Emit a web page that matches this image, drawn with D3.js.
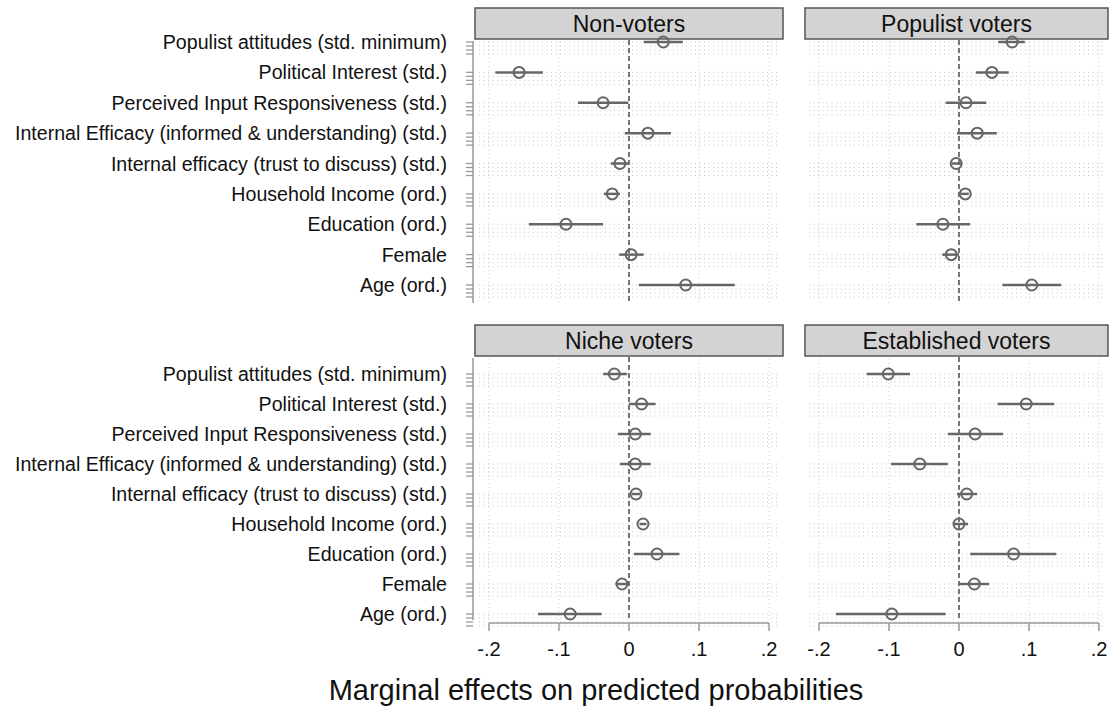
<!DOCTYPE html>
<html lang="en">
<head>
  <meta charset="UTF-8">
  <title>Marginal effects on predicted probabilities</title>
  <script src="https://d3js.org/d3.v7.min.js"></script>
  <style>
    body {
      margin: 0;
      background: #fff;
      font-family: "Liberation Sans", Arial, sans-serif;
    }
  </style>
</head>
<body>
<div id="chart"></div>

<script>
  // categories (top to bottom)
  var categories = [
    "Populist attitudes (std. minimum)",
    "Political Interest (std.)",
    "Perceived Input Responsiveness (std.)",
    "Internal Efficacy (informed & understanding) (std.)",
    "Internal efficacy (trust to discuss) (std.)",
    "Household Income (ord.)",
    "Education (ord.)",
    "Female",
    "Age (ord.)"
  ];

  var panelNames = ["Non-voters", "Populist voters", "Niche voters", "Established voters"];
  var xTicks = [-0.2, -0.1, 0, 0.1, 0.2];
  var xTickLabels = ["-.2", "-.1", "0", ".1", ".2"];

  // point estimates and 95% CI bounds, per panel
  var nonVotersEst = [0.049, -0.157, -0.037, 0.027, -0.013, -0.024, -0.090, 0.003, 0.081];
  var nonVotersLo  = [0.021, -0.191, -0.073, -0.006, -0.026, -0.036, -0.143, -0.014, 0.014];
  var nonVotersHi  = [0.077, -0.123, -0.001, 0.060, 0.000, -0.013, -0.037, 0.021, 0.151];

  var populistEst = [0.076, 0.047, 0.010, 0.026, -0.004, 0.009, -0.023, -0.011, 0.104];
  var populistLo  = [0.056, 0.024, -0.019, -0.003, -0.010, 0.003, -0.061, -0.024, 0.062];
  var populistHi  = [0.094, 0.071, 0.039, 0.054, 0.004, 0.014, 0.016, 0.000, 0.146];

  var nicheEst = [-0.021, 0.018, 0.009, 0.009, 0.010, 0.020, 0.040, -0.010, -0.084];
  var nicheLo  = [-0.037, 0.000, -0.016, -0.013, 0.004, 0.015, 0.007, -0.019, -0.130];
  var nicheHi  = [-0.003, 0.038, 0.031, 0.031, 0.016, 0.025, 0.072, 0.000, -0.039];

  var establishedEst = [-0.101, 0.096, 0.023, -0.056, 0.011, 0.000, 0.078, 0.022, -0.096];
  var establishedLo  = [-0.132, 0.055, -0.016, -0.097, -0.003, -0.007, 0.016, 0.001, -0.176];
  var establishedHi  = [-0.070, 0.136, 0.063, -0.016, 0.026, 0.013, 0.139, 0.043, -0.019];

  var width = 1112, height = 709;

  var svg = d3.select("#chart").append("svg")
    .attr("width", width)
    .attr("height", height);

  // panel geometry: plot box, zero position, plot top/bottom, first/last row, header strip
  var panels = [
    { name: panelNames[0], est: nonVotersEst, lo: nonVotersLo, hi: nonVotersHi,
      box: [475, 783], zero: 629, top: 40, bottom: 303, rows: [42, 285], header: [8, 39], yaxis: true, xaxis: false },
    { name: panelNames[1], est: populistEst, lo: populistLo, hi: populistHi,
      box: [805, 1108], zero: 959, top: 40, bottom: 303, rows: [42, 285], header: [8, 39], yaxis: false, xaxis: false },
    { name: panelNames[2], est: nicheEst, lo: nicheLo, hi: nicheHi,
      box: [475, 783], zero: 629, top: 357, bottom: 620, rows: [374, 614], header: [325, 356], yaxis: true, xaxis: true },
    { name: panelNames[3], est: establishedEst, lo: establishedLo, hi: establishedHi,
      box: [805, 1108], zero: 959, top: 357, bottom: 620, rows: [374, 614], header: [325, 356], yaxis: false, xaxis: true }
  ];

  var tickOffsets = [0, 4, 8, 12];

  panels.forEach(function(p) {
    var x = d3.scaleLinear().domain([-0.2, 0.2]).range([p.zero - 140, p.zero + 140]);
    var y = d3.scalePoint().domain(categories).range(p.rows);

    var g = svg.append("g");

    // header strip
    g.append("rect")
      .attr("x", p.box[0]).attr("y", p.header[0])
      .attr("width", p.box[1] - p.box[0]).attr("height", p.header[1] - p.header[0])
      .attr("fill", "#d3d3d3")
      .attr("stroke", "#555")
      .attr("stroke-width", 1.5);

    g.append("text")
      .attr("x", (p.box[0] + p.box[1]) / 2)
      .attr("y", (p.header[0] + p.header[1]) / 2 + 8)
      .attr("text-anchor", "middle")
      .attr("font-size", 23)
      .attr("fill", "#111")
      .text(p.name);

    // dotted grid
    var gridYs = [];
    categories.forEach(function(c) {
      tickOffsets.forEach(function(o) { gridYs.push(y(c) + o); });
    });

    g.selectAll(".hgrid").data(gridYs).enter().append("line")
      .attr("x1", p.box[0] + 4).attr("x2", p.box[1] - 4)
      .attr("y1", d => d).attr("y2", d => d)
      .attr("stroke", "#c4c4c4")
      .attr("stroke-width", 1)
      .attr("stroke-dasharray", "1,3.5");

    g.selectAll(".vgrid").data(xTicks.filter(d => d !== 0)).enter().append("line")
      .attr("x1", d => x(d)).attr("x2", d => x(d))
      .attr("y1", p.top + 2).attr("y2", p.bottom)
      .attr("stroke", "#d0d0d0")
      .attr("stroke-width", 1)
      .attr("stroke-dasharray", "1,3");

    // zero reference line
    g.append("line")
      .attr("x1", x(0)).attr("x2", x(0))
      .attr("y1", p.top).attr("y2", p.bottom + 1)
      .attr("stroke", "#555")
      .attr("stroke-width", 1.6)
      .attr("stroke-dasharray", "5,3");

    // y axis with minor ticks and labels
    if (p.yaxis) {
      g.append("line")
        .attr("x1", p.box[0] - 2).attr("x2", p.box[0] - 2)
        .attr("y1", p.top + 1).attr("y2", p.bottom)
        .attr("stroke", "#999")
        .attr("stroke-width", 1.5);

      g.selectAll(".ytick").data(gridYs).enter().append("line")
        .attr("x1", p.box[0] - 9).attr("x2", p.box[0] - 2)
        .attr("y1", d => d).attr("y2", d => d)
        .attr("stroke", "#999")
        .attr("stroke-width", 1.3);

      g.selectAll(".ylab").data(categories).enter().append("text")
        .attr("x", 447)
        .attr("y", d => y(d) + 7)
        .attr("text-anchor", "end")
        .attr("font-size", 19.6)
        .attr("fill", "#111")
        .text(d => d);
    }

    // x axis
    if (p.xaxis) {
      var axisY = p.bottom + 3;
      g.append("line")
        .attr("x1", x(-0.2)).attr("x2", x(0.2))
        .attr("y1", axisY).attr("y2", axisY)
        .attr("stroke", "#999")
        .attr("stroke-width", 1.5);

      g.selectAll(".xtick").data(xTicks).enter().append("line")
        .attr("x1", d => x(d)).attr("x2", d => x(d))
        .attr("y1", axisY).attr("y2", axisY + 8)
        .attr("stroke", "#999")
        .attr("stroke-width", 1.5);

      g.selectAll(".xlab").data(xTicks).enter().append("text")
        .attr("x", d => x(d))
        .attr("y", axisY + 33)
        .attr("text-anchor", "middle")
        .attr("font-size", 20)
        .attr("fill", "#111")
        .text((d, i) => xTickLabels[i]);
    }

    // confidence intervals
    g.selectAll(".ci").data(categories).enter().append("line")
      .attr("x1", (d, i) => x(p.lo[i])).attr("x2", (d, i) => x(p.hi[i]))
      .attr("y1", d => y(d)).attr("y2", d => y(d))
      .attr("stroke", "#666")
      .attr("stroke-width", 2.5);

    // point estimates
    g.selectAll(".pt").data(categories).enter().append("circle")
      .attr("cx", (d, i) => x(p.est[i]))
      .attr("cy", d => y(d))
      .attr("r", 5.5)
      .attr("fill", "none")
      .attr("stroke", "#666")
      .attr("stroke-width", 2);
  });

  svg.append("text")
    .attr("x", 596)
    .attr("y", 700)
    .attr("text-anchor", "middle")
    .attr("font-size", 29)
    .attr("fill", "#111")
    .text("Marginal effects on predicted probabilities");
</script>
</body>
</html>
